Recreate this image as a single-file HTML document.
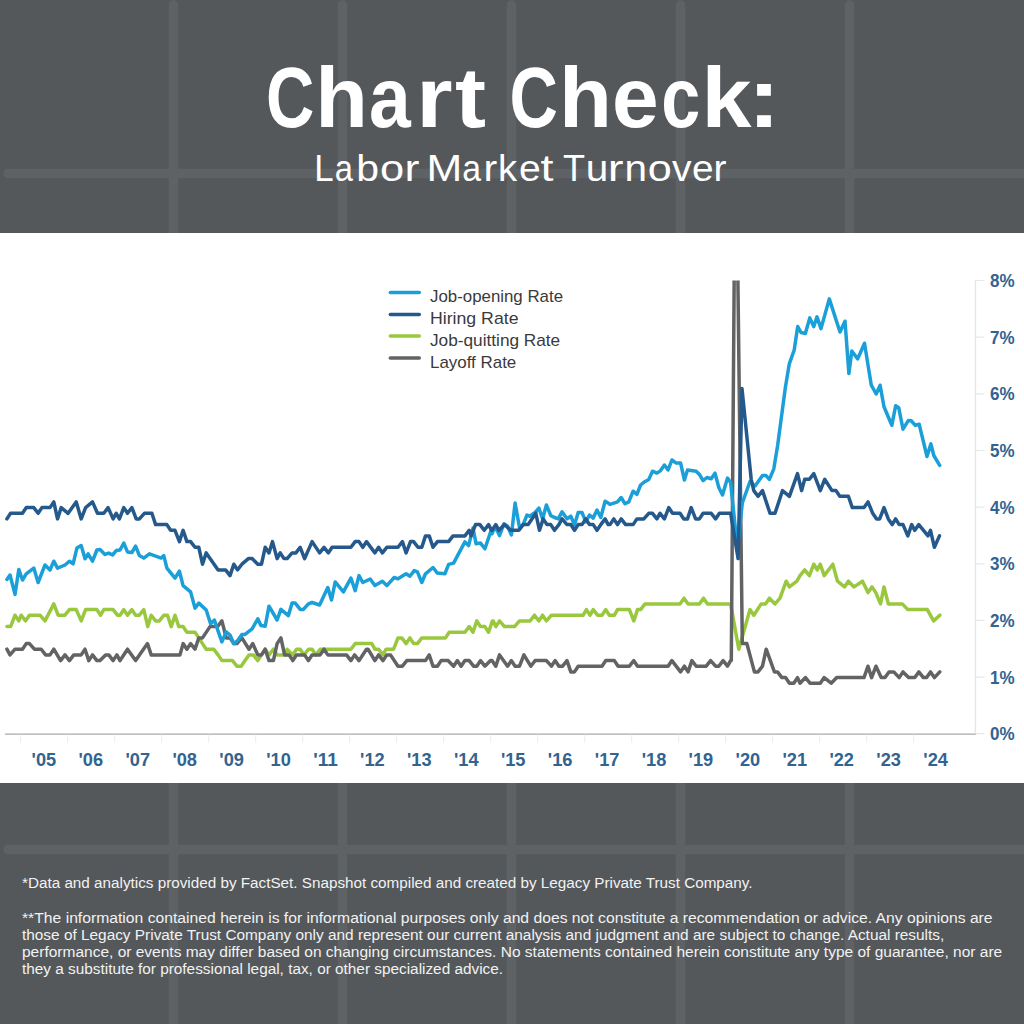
<!DOCTYPE html>
<html><head><meta charset="utf-8">
<style>
html,body{margin:0;padding:0;}
body{width:1024px;height:1024px;overflow:hidden;background:#54585b;font-family:"Liberation Sans",sans-serif;position:relative;}
#bg{position:absolute;left:0;top:0;}
#band{position:absolute;left:0;top:232.7px;width:1024px;height:550.2px;background:#fff;}
.t{position:absolute;white-space:nowrap;color:#fff;transform-origin:0 0;}
#title{left:264.6px;top:52px;font-size:85px;font-weight:bold;line-height:92px;transform:scaleX(0.9697);}
#sub{left:313.5px;top:146.8px;font-size:37.8px;line-height:42px;transform:scaleX(1.0813);}
.fn{font-size:15.5px;line-height:17px;color:#f2f2f2;left:22px;}
#chart{position:absolute;left:0;top:0;}
</style></head><body>
<svg id="bg" width="1024" height="1024" viewBox="0 0 1024 1024">
<g stroke="#5e6265" stroke-width="9.5" stroke-linecap="round" fill="none">
<path d="M173.5 5V1030M342.5 5V1030M511.5 5V1030M680.5 5V1030M849.5 5V1030"/>
<path d="M8 173.5H1030M8 849.5H1030"/>
</g>
</svg>
<div id="band"></div>
<svg id="chart" width="1024" height="1024" viewBox="0 0 1024 1024">
<g fill="#fff" font-family="Liberation Sans, sans-serif">
<g font-weight="bold" font-size="85"><text transform="translate(266.01,127.3) scale(0.7872,1)">C</text><text transform="translate(315.24,127.3) scale(1.0131,1)">h</text><text transform="translate(369.05,127.3) scale(0.8826,1)">a</text><text transform="translate(416.35,127.3) scale(1.0978,1)">r</text><text transform="translate(455.11,127.3) scale(1.0961,1)">t</text><text transform="translate(509.55,127.3) scale(0.7881,1)">C</text><text transform="translate(559.05,127.3) scale(1.0193,1)">h</text><text transform="translate(612.12,127.3) scale(0.9867,1)">e</text><text transform="translate(661.36,127.3) scale(0.8248,1)">c</text><text transform="translate(701.52,127.3) scale(1.0574,1)">k</text><text transform="translate(747.63,127.3) scale(1.1461,1)">:</text></g>
<g font-size="37.8"><text transform="translate(314.23,181.1) scale(0.9240,1)">L</text><text transform="translate(334.81,181.1) scale(0.8652,1)">a</text><text transform="translate(356.16,181.1) scale(1.0824,1)">b</text><text transform="translate(379.88,181.1) scale(1.1486,1)">o</text><text transform="translate(404.42,181.1) scale(1.1852,1)">r</text><text transform="translate(426.38,181.1) scale(1.1350,1)">M</text><text transform="translate(462.36,181.1) scale(0.8961,1)">a</text><text transform="translate(483.56,181.1) scale(1.0899,1)">r</text><text transform="translate(498.12,181.1) scale(1.0117,1)">k</text><text transform="translate(519.04,181.1) scale(1.0317,1)">e</text><text transform="translate(540.39,181.1) scale(1.2328,1)">t</text><text transform="translate(562.89,181.1) scale(0.9545,1)">T</text><text transform="translate(585.77,181.1) scale(1.0711,1)">u</text><text transform="translate(607.87,181.1) scale(1.2487,1)">r</text><text transform="translate(624.41,181.1) scale(1.0711,1)">n</text><text transform="translate(647.79,181.1) scale(1.1430,1)">o</text><text transform="translate(672.07,181.1) scale(1.0353,1)">v</text><text transform="translate(692.05,181.1) scale(1.0261,1)">e</text><text transform="translate(713.62,181.1) scale(1.0265,1)">r</text></g>
</g>
<defs><clipPath id="clip"><rect x="0" y="280.6" width="976" height="460"/></clipPath></defs>
<g id="axes">
<path d="M975.5,733.7V280.3" fill="none" stroke="#e4e6e9" stroke-width="1.3"/>
<path d="M5,734.2H976" fill="none" stroke="#a6a9ad" stroke-width="1.2"/>
<path d="M975.5,733.7h9M975.5,677.1h9M975.5,620.4h9M975.5,563.8h9M975.5,507.1h9M975.5,450.5h9M975.5,393.8h9M975.5,337.2h9M975.5,280.5h9" stroke="#e6e8ea" stroke-width="1.2"/>
<path d="M20.6,734.7v8M67.6,734.7v8M114.6,734.7v8M161.6,734.7v8M208.6,734.7v8M255.6,734.7v8M302.6,734.7v8M349.6,734.7v8M396.6,734.7v8M443.6,734.7v8M490.6,734.7v8M537.6,734.7v8M584.6,734.7v8M631.6,734.7v8M678.6,734.7v8M725.6,734.7v8M772.6,734.7v8M819.6,734.7v8M866.6,734.7v8M913.6,734.7v8" stroke="#eef0f2" stroke-width="1.2"/>
<g font-family="Liberation Sans, sans-serif" font-weight="bold" font-size="18.2" fill="#33638f">
<text x="990" y="740.3" textLength="24.6" lengthAdjust="spacingAndGlyphs">0%</text><text x="990" y="683.7" textLength="24.6" lengthAdjust="spacingAndGlyphs">1%</text><text x="990" y="627.0" textLength="24.6" lengthAdjust="spacingAndGlyphs">2%</text><text x="990" y="570.4" textLength="24.6" lengthAdjust="spacingAndGlyphs">3%</text><text x="990" y="513.7" textLength="24.6" lengthAdjust="spacingAndGlyphs">4%</text><text x="990" y="457.1" textLength="24.6" lengthAdjust="spacingAndGlyphs">5%</text><text x="990" y="400.4" textLength="24.6" lengthAdjust="spacingAndGlyphs">6%</text><text x="990" y="343.8" textLength="24.6" lengthAdjust="spacingAndGlyphs">7%</text><text x="990" y="287.1" textLength="24.6" lengthAdjust="spacingAndGlyphs">8%</text>
<text x="31.6" y="765.8" textLength="24.6" lengthAdjust="spacingAndGlyphs">'05</text><text x="78.5" y="765.8" textLength="24.6" lengthAdjust="spacingAndGlyphs">'06</text><text x="125.5" y="765.8" textLength="24.6" lengthAdjust="spacingAndGlyphs">'07</text><text x="172.4" y="765.8" textLength="24.6" lengthAdjust="spacingAndGlyphs">'08</text><text x="219.3" y="765.8" textLength="24.6" lengthAdjust="spacingAndGlyphs">'09</text><text x="266.2" y="765.8" textLength="24.6" lengthAdjust="spacingAndGlyphs">'10</text><text x="313.2" y="765.8" textLength="24.6" lengthAdjust="spacingAndGlyphs">'11</text><text x="360.1" y="765.8" textLength="24.6" lengthAdjust="spacingAndGlyphs">'12</text><text x="407.0" y="765.8" textLength="24.6" lengthAdjust="spacingAndGlyphs">'13</text><text x="454.0" y="765.8" textLength="24.6" lengthAdjust="spacingAndGlyphs">'14</text><text x="500.9" y="765.8" textLength="24.6" lengthAdjust="spacingAndGlyphs">'15</text><text x="547.8" y="765.8" textLength="24.6" lengthAdjust="spacingAndGlyphs">'16</text><text x="594.8" y="765.8" textLength="24.6" lengthAdjust="spacingAndGlyphs">'17</text><text x="641.7" y="765.8" textLength="24.6" lengthAdjust="spacingAndGlyphs">'18</text><text x="688.6" y="765.8" textLength="24.6" lengthAdjust="spacingAndGlyphs">'19</text><text x="735.6" y="765.8" textLength="24.6" lengthAdjust="spacingAndGlyphs">'20</text><text x="782.5" y="765.8" textLength="24.6" lengthAdjust="spacingAndGlyphs">'21</text><text x="829.4" y="765.8" textLength="24.6" lengthAdjust="spacingAndGlyphs">'22</text><text x="876.3" y="765.8" textLength="24.6" lengthAdjust="spacingAndGlyphs">'23</text><text x="923.3" y="765.8" textLength="24.6" lengthAdjust="spacingAndGlyphs">'24</text>
</g>
<g font-family="Liberation Sans, sans-serif" font-size="16.6" fill="#3a3a3c">
<path d="M390.3,292.6h29" stroke="#1b9fd8" stroke-width="3.5" stroke-linecap="round"/><text x="430" y="302" textLength="133.0" lengthAdjust="spacingAndGlyphs">Job-opening Rate</text><path d="M390.3,314.4h29" stroke="#25598b" stroke-width="3.5" stroke-linecap="round"/><text x="430" y="323.8" textLength="88.5" lengthAdjust="spacingAndGlyphs">Hiring Rate</text><path d="M390.3,336.1h29" stroke="#99c83f" stroke-width="3.5" stroke-linecap="round"/><text x="430" y="345.6" textLength="130.2" lengthAdjust="spacingAndGlyphs">Job-quitting Rate</text><path d="M390.3,357.9h29" stroke="#626365" stroke-width="3.5" stroke-linecap="round"/><text x="430" y="367.5" textLength="86.3" lengthAdjust="spacingAndGlyphs">Layoff Rate</text>
</g>
</g>
<g id="series" fill="none" stroke-width="3.5" stroke-linejoin="round" stroke-linecap="round" clip-path="url(#clip)">
<path d="M6.9,626.6 L10.6,626.6 L15.0,615.2 L18.8,620.9 L21.2,615.2 L25.6,620.9 L29.4,615.2 L40.0,615.2 L45.0,620.9 L53.8,603.9 L58.1,615.2 L65.0,615.2 L69.4,609.6 L76.2,609.6 L81.2,620.9 L85.6,609.6 L96.9,609.6 L100.6,615.2 L103.8,609.6 L113.1,609.6 L117.5,615.2 L120.0,615.2 L123.8,609.6 L127.5,615.2 L131.9,609.6 L135.6,615.2 L139.4,615.2 L143.8,609.6 L147.8,626.6 L151.2,615.2 L155.6,620.9 L159.4,620.9 L163.8,615.2 L167.5,615.2 L171.2,626.6 L175.0,615.2 L178.8,626.6 L183.1,626.6 L186.9,632.2 L190.6,632.2 L195.0,632.2 L198.8,637.9 L202.5,643.6 L206.2,649.2 L213.8,649.2 L218.1,654.9 L221.9,660.6 L232.5,660.6 L236.9,666.2 L241.2,666.2 L245.0,660.6 L249.0,654.9 L253.4,654.9 L257.8,660.6 L261.5,654.9 L265.2,649.2 L269.0,654.9 L273.4,649.2 L277.1,654.9 L285.2,654.9 L287.1,649.2 L292.8,654.9 L296.5,649.2 L300.2,649.2 L304.0,654.9 L308.4,649.2 L312.1,649.2 L315.9,654.9 L320.2,649.2 L350.9,649.2 L355.2,643.6 L367.1,643.6 L368.0,643.6 L371.8,643.6 L374.9,649.2 L378.6,649.2 L383.0,654.9 L386.1,649.2 L393.6,649.2 L398.0,637.9 L401.8,637.9 L406.1,643.6 L409.9,637.9 L413.6,643.6 L417.4,643.6 L421.8,637.9 L445.5,637.9 L449.2,632.2 L464.9,632.2 L469.2,626.6 L473.0,632.2 L476.8,620.9 L480.5,626.6 L484.9,626.6 L488.6,632.2 L492.4,620.9 L493.2,620.9 L495.8,626.6 L499.5,620.9 L504.5,626.6 L514.5,626.6 L519.5,620.9 L530.1,620.9 L534.5,615.2 L538.9,620.9 L542.6,615.2 L546.4,620.9 L551.4,615.2 L583.2,615.2 L586.4,609.6 L590.1,615.2 L593.2,609.6 L597.6,615.2 L602.0,615.2 L605.8,609.6 L609.2,615.2 L610.0,615.2 L614.4,615.2 L617.5,609.6 L629.4,609.6 L633.8,620.9 L637.5,609.6 L640.6,609.6 L645.0,603.9 L680.0,603.9 L684.0,598.2 L688.1,603.9 L699.4,603.9 L703.5,598.2 L707.5,603.9 L730.6,603.9 L738.8,649.2 L750,609.6 L753.8,615.2 L761.2,603.9 L765.6,603.9 L769.4,598.2 L775,603.9 L780,598.2 L786.2,581.2 L789.4,586.9 L796.9,581.2 L800,575.6 L804.7,569.9 L809.4,575.6 L813.8,564.2 L817.2,569.9 L820.3,564.2 L824.2,575.6 L832.8,564.2 L837.5,581.2 L844.5,586.9 L848.4,581.2 L854,586.9 L862.5,581.2 L868,592.6 L872,586.9 L875.8,592.6 L880.5,603.9 L884,586.9 L888.3,603.9 L893.8,603.9 L902.3,603.9 L907.8,609.6 L927.3,609.6 L933.6,620.9 L939.8,615.2" stroke="#99c83f"/>
<path d="M6.9,649.2 L10.0,654.9 L15.0,649.2 L22.5,649.2 L26.2,643.6 L29.4,643.6 L34.4,649.2 L41.2,649.2 L45.6,654.9 L50.0,654.9 L53.8,649.2 L60.6,660.6 L65.0,654.9 L69.4,660.6 L73.8,654.9 L81.2,654.9 L85.0,649.2 L88.8,660.6 L92.5,654.9 L96.9,660.6 L100.0,660.6 L105.6,654.9 L108.8,654.9 L113.1,660.6 L116.9,654.9 L120.0,660.6 L127.5,649.2 L135.6,660.6 L147.5,643.6 L151.2,654.9 L180.0,654.9 L183.1,643.6 L186.9,649.2 L190.6,643.6 L195.0,649.2 L198.8,637.9 L202.5,637.9 L210.0,626.6 L217.5,626.6 L221.9,620.9 L226.2,637.9 L230.0,637.9 L233.8,643.6 L236.9,643.6 L241.9,637.9 L249.0,649.2 L252.8,643.6 L257.8,654.9 L261.5,654.9 L265.2,649.2 L269.0,660.6 L273.4,660.6 L277.1,643.6 L280.9,637.9 L284.6,654.9 L289.0,654.9 L292.8,660.6 L296.5,654.9 L304.6,654.9 L308.4,660.6 L312.1,654.9 L320.2,654.9 L324.0,649.2 L327.8,654.9 L346.5,654.9 L350.9,660.6 L354.6,654.9 L359.0,660.6 L366.5,649.2 L368.0,649.2 L374.9,660.6 L378.6,654.9 L383.0,660.6 L386.8,654.9 L390.5,654.9 L398.0,666.2 L402.4,666.2 L406.8,660.6 L425.5,660.6 L429.2,654.9 L433.0,666.2 L437.4,666.2 L441.1,660.6 L448.0,660.6 L453.6,666.2 L457.4,660.6 L461.1,666.2 L464.9,660.6 L469.2,660.6 L473.6,666.2 L476.8,666.2 L480.5,660.6 L484.9,666.2 L490.5,660.6 L492.0,660.6 L495.8,666.2 L499.5,654.9 L507.6,666.2 L511.4,660.6 L515.1,666.2 L519.5,666.2 L523.9,654.9 L530.8,666.2 L535.1,660.6 L546.4,660.6 L551.4,666.2 L555.1,660.6 L558.9,666.2 L562.6,666.2 L567.0,660.6 L570.8,671.9 L574.5,671.9 L578.2,666.2 L602.0,666.2 L605.8,660.6 L609.5,660.6 L610.0,660.6 L614.4,660.6 L618.1,666.2 L629.4,666.2 L633.8,660.6 L637.5,666.2 L668.1,666.2 L671.9,660.6 L680.6,671.9 L684.4,666.2 L688.1,671.9 L691.9,660.6 L696.2,666.2 L706.2,666.2 L710.6,660.6 L715.6,666.2 L718.8,666.2 L723.1,660.6 L727.5,666.2 L730.6,660.6 L731.3,660.6 L735.6,90 L742.3,643.6 L746.9,643.6 L754.4,671.9 L758,671.9 L762.5,666.2 L766.2,649.2 L774.4,671.9 L777.5,671.9 L781.9,677.6 L785.6,677.6 L789.4,683.2 L793.8,683.2 L797.5,677.6 L800,683.2 L805.5,677.6 L810,683.2 L820.3,683.2 L824.2,677.6 L831.2,683.2 L836.7,677.6 L864,677.6 L868,666.2 L871.6,677.6 L876,666.2 L881.2,677.6 L885,677.6 L889,671.9 L893.8,671.9 L899.2,677.6 L903,671.9 L908.6,677.6 L914.8,677.6 L918.8,671.9 L923.4,677.6 L926.6,677.6 L930.5,671.9 L934.4,677.6 L939.8,671.9" stroke="#626365"/>
<path d="M6.9,579.4 L10.0,575.0 L15.0,594.4 L18.8,569.4 L22.5,580.0 L26.2,573.8 L33.8,568.1 L38.1,582.5 L45.0,565.0 L50.0,570.0 L53.8,561.2 L57.5,568.1 L65.0,565.0 L69.4,561.2 L73.1,563.8 L76.9,548.1 L81.2,545.6 L85.0,558.8 L88.1,553.8 L92.5,561.2 L96.9,550.0 L100.0,549.4 L105.0,554.4 L108.8,553.1 L112.5,555.0 L116.2,550.6 L120.0,550.0 L123.8,543.1 L127.5,551.9 L131.9,552.5 L135.6,546.2 L139.4,555.6 L143.8,558.1 L149.4,553.8 L161.2,558.1 L163.8,555.6 L166.9,568.1 L175.0,578.1 L179.4,571.2 L183.1,585.6 L190.6,591.9 L195.0,608.1 L198.8,603.1 L206.2,610.0 L210.6,623.8 L214.4,620.0 L218.1,631.2 L221.9,641.9 L226.2,631.9 L230.0,635.0 L233.8,643.8 L238.1,640.0 L241.9,634.4 L245.0,634.4 L252.1,628.8 L257.8,618.8 L260.9,625.6 L265.2,626.2 L269.0,606.2 L277.1,620.0 L280.9,609.4 L288.4,615.6 L292.1,603.1 L295.2,603.1 L300.2,609.4 L303.4,609.4 L308.4,603.8 L312.1,602.5 L319.6,605.0 L327.8,587.5 L331.5,600.0 L335.2,581.9 L343.4,591.9 L350.9,578.1 L355.2,590.6 L359.0,575.6 L362.8,582.5 L370.2,579.0 L374.9,585.6 L382.4,581.2 L386.8,585.6 L394.2,577.5 L398.0,578.8 L406.1,573.8 L409.9,576.2 L414.2,570.6 L417.4,571.9 L421.8,582.5 L425.5,573.8 L433.0,567.5 L437.4,573.1 L444.9,573.8 L448.6,564.4 L453.6,563.1 L464.9,541.9 L468.6,545.6 L473.0,528.1 L476.1,543.8 L480.5,543.1 L484.9,548.8 L491.5,529.4 L492.0,533.8 L495.1,526.2 L499.5,535.6 L503.9,523.8 L507.6,526.2 L511.4,535.0 L515.1,503.1 L519.5,527.5 L523.2,524.4 L527.0,515.0 L529.5,516.2 L535.1,512.5 L538.9,508.1 L542.6,518.8 L546.4,505.0 L550.8,515.6 L554.5,517.5 L558.2,518.8 L562.0,511.9 L567.0,518.8 L570.8,516.2 L574.5,525.0 L578.2,512.5 L582.0,512.5 L585.8,521.9 L589.5,515.0 L593.2,518.1 L597.0,510.0 L600.8,517.5 L605.1,501.2 L608.2,503.1 L610.0,504.4 L617.5,501.9 L621.2,497.5 L625.0,503.8 L628.8,501.9 L633.1,491.2 L636.9,494.4 L640.6,485.0 L644.4,481.9 L648.8,479.4 L652.5,471.2 L656.9,473.1 L660.6,470.6 L664.4,465.0 L668.1,470.0 L671.9,460.0 L676.2,463.1 L680.6,463.1 L684.4,480.0 L687.5,470.0 L696.2,471.2 L699.4,474.4 L703.1,480.6 L706.9,477.5 L711.2,478.8 L715.0,473.1 L718.8,487.5 L722.5,495.0 L727.5,478.1 L730.6,482.5 L737.5,549 L742.3,503 L750,481.5 L755,486 L762.5,475.6 L766,475.6 L769.4,479.4 L773.8,468.8 L777.6,445.8 L785.4,387.2 L789.3,363.8 L794.2,350 L797.7,326.6 L801,332.5 L805.3,333.5 L809.8,317.9 L813.7,326.6 L817,316.9 L821,328.6 L829.3,298.9 L840,332 L845,321.2 L848.9,373.5 L851.8,351 L857.7,358.9 L864.5,343.2 L871.3,385.2 L876.2,394 L880.1,385.2 L884,406.7 L891.8,425.3 L895.7,405.7 L898.7,407.7 L903,429.2 L908.4,420.4 L911.4,420.8 L915.3,425.3 L919.2,424.3 L927,456.5 L930.9,443.8 L933.8,455.5 L939.7,465.3" stroke="#1b9fd8"/>
<path d="M6.9,518.9 L10.6,513.3 L22.5,513.3 L26.2,507.6 L33.8,507.6 L38.1,513.3 L41.9,507.6 L50.0,507.6 L53.8,501.9 L57.5,518.9 L61.2,507.6 L68.1,513.3 L76.2,501.9 L81.2,518.9 L85.6,507.6 L92.5,501.9 L97.5,513.3 L103.8,513.3 L108.1,507.6 L113.1,518.9 L116.2,513.3 L119.4,518.9 L123.8,507.6 L127.5,513.3 L131.9,507.6 L136.2,518.9 L139.4,518.9 L144.4,513.3 L151.9,513.3 L155.6,524.6 L166.9,524.6 L170.6,530.3 L175.0,530.3 L179.4,541.6 L183.1,530.3 L186.9,541.6 L190.6,541.6 L195.0,547.3 L198.8,547.3 L202.5,564.2 L206.2,552.9 L218.1,569.9 L225.6,569.9 L230.0,575.6 L233.8,564.2 L237.5,569.9 L241.9,564.2 L248.4,558.6 L252.1,558.6 L257.8,564.2 L261.5,564.2 L265.2,547.3 L269.0,552.9 L272.5,541.6 L277.1,558.6 L280.2,552.9 L284.0,558.6 L287.1,558.6 L292.1,552.9 L295.9,552.9 L300.2,547.3 L304.6,558.6 L312.1,541.6 L319.6,552.9 L324.0,547.3 L328.4,552.9 L332.1,547.3 L350.9,547.3 L355.2,541.6 L359.0,541.6 L362.8,547.3 L366.5,541.6 L374.9,552.9 L378.6,547.3 L382.4,552.9 L386.8,547.3 L398.0,547.3 L402.4,541.6 L406.1,552.9 L410.5,541.6 L413.6,541.6 L418.0,547.3 L421.8,547.3 L425.5,535.9 L429.2,535.9 L433.0,547.3 L437.4,541.6 L448.6,541.6 L453.0,535.9 L464.9,535.9 L469.2,530.3 L471.1,535.9 L475.5,524.6 L479.9,524.6 L484.2,530.3 L488.6,524.6 L491.5,530.3 L492.0,530.3 L495.8,524.6 L498.9,530.3 L504.5,524.6 L510.8,530.3 L518.9,530.3 L523.2,524.6 L528.2,524.6 L535.8,513.3 L539.5,530.3 L543.2,518.9 L547.0,524.6 L550.8,524.6 L554.5,530.3 L558.9,524.6 L562.0,518.9 L567.0,524.6 L570.8,524.6 L574.5,530.3 L578.2,524.6 L582.0,524.6 L585.8,518.9 L589.5,524.6 L593.2,524.6 L597.0,530.3 L600.8,524.6 L605.1,518.9 L608.2,524.6 L610.0,524.6 L613.8,518.9 L617.5,524.6 L621.2,518.9 L625.6,524.6 L633.1,524.6 L636.9,518.9 L643.8,518.9 L648.8,513.3 L652.5,513.3 L656.9,518.9 L660.0,513.3 L664.4,518.9 L668.8,507.6 L672.5,513.3 L680.0,513.3 L683.8,518.9 L687.5,518.9 L691.2,507.6 L695.6,518.9 L699.4,518.9 L703.1,513.3 L711.2,513.3 L715.6,518.9 L719.4,513.3 L730.6,513.3 L738.1,558.6 L742,388.6 L751.2,479.3 L753.8,490.6 L758,496.3 L762.5,490.6 L770,513.3 L775,513.3 L782.5,490.6 L789.4,496.3 L797.5,473.6 L801.6,490.6 L804.7,479.3 L809.4,479.3 L813.8,473.6 L820.3,490.6 L824.7,479.3 L832,490.6 L836,490.6 L839.8,496.3 L848.4,496.3 L852.3,507.6 L864,507.6 L868,501.9 L872.7,513.3 L876.6,518.9 L879.7,518.9 L884,507.6 L888.3,518.9 L892.2,524.6 L895.6,518.9 L899.2,524.6 L903,524.6 L907.8,535.9 L911.7,524.6 L914.8,530.3 L918.8,524.6 L928,535.9 L930.5,530.3 L934.4,547.3 L939.5,535.9" stroke="#25598b"/>
</g>
</svg>
<div class="t fn" id="f1" style="top:873.9px;transform:scaleX(0.984)">*Data and analytics provided by FactSet. Snapshot compiled and created by Legacy Private Trust Company.</div>
<div class="t fn" id="f2" style="top:909.2px;transform:scaleX(1.013)">**The information contained herein is for informational purposes only and does not constitute a recommendation or advice. Any opinions are</div>
<div class="t fn" id="f3" style="top:925.9px;transform:scaleX(0.992)">those of Legacy Private Trust Company only and represent our current analysis and judgment and are subject to change. Actual results,</div>
<div class="t fn" id="f4" style="top:943px;transform:scaleX(1.0)">performance, or events may differ based on changing circumstances. No statements contained herein constitute any type of guarantee, nor are</div>
<div class="t fn" id="f5" style="top:959.9px;transform:scaleX(0.99)">they a substitute for professional legal, tax, or other specialized advice.</div>
</body></html>
